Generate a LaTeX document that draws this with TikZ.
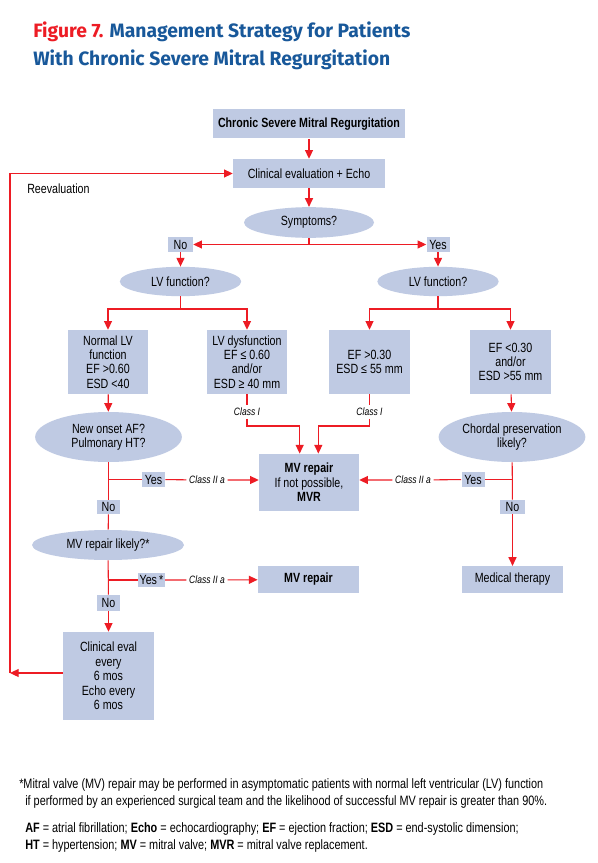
\documentclass[tikz,border=0pt]{standalone}
\usepackage{fontspec}
\setmainfont[FakeStretch=0.8]{Liberation Sans}
\newfontfamily\titlefont[FakeStretch=1.0]{Fira Sans}
\usetikzlibrary{arrows.meta,shapes.geometric}
\definecolor{boxblue}{RGB}{191,202,227}
\definecolor{linered}{RGB}{237,28,36}
\definecolor{titleblue}{RGB}{24,88,154}
\newcommand\boxfont{\fontsize{10}{10.8}\selectfont}
\begin{document}
\begin{tikzpicture}[x=0.75pt,y=-0.75pt,
    box/.style={fill=boxblue,align=center,inner sep=1pt,font=\boxfont},
    oval/.style={box,ellipse,inner sep=0pt},
    tag/.style={fill=boxblue,inner sep=0pt,minimum height=11pt,font=\boxfont},
    cls/.style={fill=white,inner sep=2pt,font=\fontsize{8}{8}\selectfont\itshape},
    note/.style={anchor=base west,inner sep=0pt,font=\fontsize{10.2}{10.2}\selectfont},
    flow/.style={draw=linered,line width=0.8pt},
    >={Triangle[length=6.5pt,width=6pt]}]
    \fill [white] (0,0) rectangle (598,863);
    \node [anchor=base west,inner sep=0pt,text=titleblue,font=\titlefont\bfseries\fontsize{14.5}{14.5}\selectfont] (title1) at (33,38) {\textcolor{linered}{Figure 7.} Management Strategy for Patients};
    \node [anchor=base west,inner sep=0pt,text=titleblue,font=\titlefont\bfseries\fontsize{14.5}{14.5}\selectfont] (title2) at (33,66) {With Chronic Severe Mitral Regurgitation};
    \node [box,font=\boxfont\bfseries,minimum width=144pt,minimum height=21.75pt] (chronic) at (309,124) {Chronic Severe Mitral Regurgitation};
    \node [box,minimum width=114pt,minimum height=21.75pt] (clin) at (309,173.5) {Clinical evaluation + Echo};
    \node [anchor=west,inner sep=0pt,font=\boxfont] (reeval) at (27,189) {Reevaluation};
    \node [oval,minimum width=97.5pt,minimum height=23pt] (sympt) at (309,222.5) {Symptoms?};
    \node [tag,minimum width=18.75pt] (no1) at (180.5,244.5) {No};
    \node [tag,minimum width=17.25pt] (yes1) at (438,244.5) {Yes};
    \node [oval,minimum width=91pt,minimum height=22pt] (lvl) at (180.5,281.5) {LV function?};
    \node [oval,minimum width=91pt,minimum height=22pt] (lvr) at (438,281.5) {LV function?};
    \coordinate (jl) at (180.5,309);
    \coordinate (jr) at (438,309);
    \node [box,minimum width=60pt,minimum height=48pt] (normal) at (108,362) {Normal LV\\function\\EF >0.60\\ESD <40};
    \node [box,minimum width=60pt,minimum height=48pt] (dysf) at (247,362) {LV dysfunction\\EF ≤ 0.60\\and/or\\ESD ≥ 40 mm};
    \node [box,minimum width=61pt,minimum height=48pt] (efhi) at (369.5,362) {EF >0.30\\ESD ≤ 55 mm};
    \node [box,minimum width=61pt,minimum height=48pt] (eflo) at (510.5,362) {EF <0.30\\and/or\\ESD >55 mm};
    \node [oval,minimum width=110pt,minimum height=37.5pt] (afq) at (108.5,437) {New onset AF?\\Pulmonary HT?};
    \node [oval,minimum width=110pt,minimum height=37.5pt] (chord) at (512,437) {Chordal preservation\\likely?};
    \node [cls] (cl1) at (247,412) {Class I};
    \node [cls] (cl2) at (369.5,412) {Class I};
    \node [box,minimum width=75pt,minimum height=43pt] (mvr) at (309,482.5) {\textbf{MV repair}\\If not possible,\\\textbf{MVR}};
    \node [tag,minimum width=17.25pt] (yes2) at (153.5,479.5) {Yes};
    \node [tag,minimum width=17.25pt] (yes3) at (473,479.5) {Yes};
    \node [cls] (cl3) at (207,480) {Class II a};
    \node [cls] (cl4) at (413,480) {Class II a};
    \node [tag,minimum width=17.25pt,minimum height=10.5pt] (no2) at (108.5,507) {No};
    \node [tag,minimum width=18.75pt,minimum height=10.5pt] (no3) at (512.5,507) {No};
    \node [oval,minimum width=114pt,minimum height=22.5pt] (mvq) at (108,545) {MV repair likely?*};
    \node [tag,minimum width=20pt] (yes4) at (151.5,580) {Yes\,*};
    \node [cls] (cl5) at (207,580) {Class II a};
    \node [box,font=\boxfont\bfseries,minimum width=76pt,minimum height=20pt] (repair) at (308.5,579.5) {MV repair};
    \node [box,minimum width=76pt,minimum height=20pt] (medic) at (512.5,579.5) {Medical therapy};
    \node [tag,minimum width=17.25pt,minimum height=12pt] (no4) at (108.5,603) {No};
    \node [box,minimum width=68pt,minimum height=66pt] (evalbox) at (108.5,676) {Clinical eval\\every\\6 mos\\Echo every\\6 mos};
    \coordinate (rev) at (10,673);
    \coordinate (top) at (10,173.5);
    \draw [flow,->] (chronic) -- (clin);
    \draw [flow,->] (clin) -- (sympt);
    \draw [flow] (sympt) -- (sympt |- no1);
    \draw [flow,<->] (no1) -- (yes1);
    \draw [flow,->] (no1) -- (lvl);
    \draw [flow,->] (yes1) -- (lvr);
    \draw [flow] (lvl) -- (jl);
    \draw [flow,->] (jl) -| (normal);
    \draw [flow,->] (jl) -| (dysf);
    \draw [flow] (lvr) -- (jr);
    \draw [flow,->] (jr) -| (efhi);
    \draw [flow,->] (jr) -| (eflo);
    \draw [flow,->] (normal) -- (afq);
    \draw [flow,->] (eflo) -- (chord);
    \draw [flow,->] (dysf) -- (cl1) -- ++(0,14) -| ([xshift=-7pt]mvr.north);
    \draw [flow,->] (efhi) -- (cl2) -- ++(0,14) -| ([xshift=7pt]mvr.north);
    \draw [flow] (afq) -- (no2);
    \draw [flow] (afq.south |- yes2) -- (yes2);
    \draw [flow,->] (yes2) -- (cl3) -- (mvr.west |- cl3);
    \draw [flow] (chord) -- (no3);
    \draw [flow] (chord.south |- yes3) -- (yes3);
    \draw [flow,->] (yes3) -- (cl4) -- (mvr.east |- cl4);
    \draw [flow,->] (no3) -- (medic);
    \draw [flow] (no2) -- (mvq);
    \draw [flow] (mvq) -- (no4);
    \draw [flow] (mvq.south |- yes4) -- (yes4);
    \draw [flow,->] (yes4) -- (cl5) -- (repair);
    \draw [flow,->] (no4) -- (evalbox);
    \draw [flow,->] (evalbox.west |- rev) -- (rev);
    \draw [flow,->] (rev) -- (top) -- (clin.west);
    \node [note] (note1) at (19,788) {*Mitral valve (MV) repair may be performed in asymptomatic patients with normal left ventricular (LV) function};
    \node [note] (note2) at (25,805) {if performed by an experienced surgical team and the likelihood of successful MV repair is greater than 90\%.};
    \node [note] (abbr1) at (25,832) {\textbf{AF} = atrial fibrillation; \textbf{Echo} = echocardiography; \textbf{EF} = ejection fraction; \textbf{ESD} = end-systolic dimension;};
    \node [note] (abbr2) at (25,849) {\textbf{HT} = hypertension; \textbf{MV} = mitral valve; \textbf{MVR} = mitral valve replacement.};
\end{tikzpicture}
\end{document}
